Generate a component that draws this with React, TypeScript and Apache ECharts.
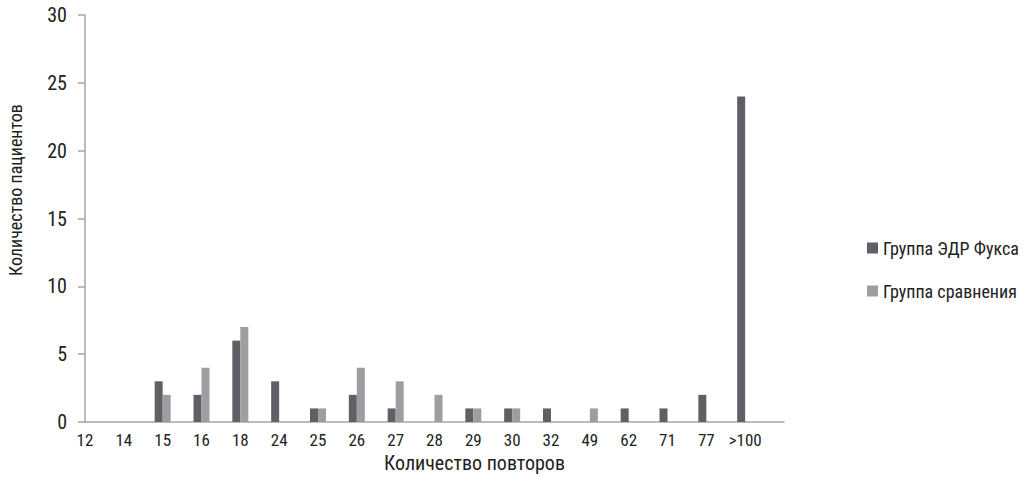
import React, { useEffect, useRef } from "react";
import * as echarts from "echarts";

const categories = ["12", "14", "15", "16", "18", "24", "25", "26", "27", "28", "29", "30", "32", "49", "62", "71", "77", ">100", ""];
const fuchsValues = [0, 0, 3, 2, 6, 3, 1, 2, 1, 0, 1, 1, 1, 0, 1, 1, 2, 24, null];
const comparisonValues = [0, 0, 2, 4, 7, 0, 1, 4, 3, 2, 1, 1, 0, 1, 0, 0, 0, 0, null];
const seriesNames = ["Группа ЭДР Фукса", "Группа сравнения"];
const xAxisTitle = "Количество повторов";
const yAxisTitle = "Количество пациентов";

const FONT = "'Liberation Sans Narrow', 'Roboto Condensed', 'Liberation Sans', sans-serif";

export default function App() {
  const ref = useRef<HTMLDivElement>(null);
  useEffect(() => {
    if (!ref.current) return;
    const chart = echarts.init(ref.current, undefined, { renderer: "svg" });
    chart.setOption({
      animation: false,
      textStyle: { fontFamily: FONT },
      grid: { left: 85, right: 240, top: 15, bottom: 55, containLabel: false, outerBoundsMode: "none" },
      legend: {
        orient: "vertical",
        left: 862,
        top: 234,
        itemWidth: 11,
        itemHeight: 11,
        itemGap: 25,
        icon: "rect",
        textStyle: { fontFamily: FONT, fontSize: 18, color: "#222" },
        data: seriesNames,
      },
      xAxis: {
        type: "category",
        data: categories,
        boundaryGap: false,
        name: xAxisTitle,
        nameLocation: "middle",
        nameGap: 30,
        nameTextStyle: { fontFamily: FONT, fontSize: 20, color: "#222", padding: [0, 0, 0, 80] },
        axisLine: { lineStyle: { color: "#a6a6a6", width: 1.5 } },
        axisTick: { show: false },
        axisLabel: { fontFamily: FONT, fontSize: 17, color: "#222", margin: 9, interval: 0 },
      },
      yAxis: {
        type: "value",
        min: 0,
        max: 30,
        interval: 5,
        axisLine: { show: true, lineStyle: { color: "#a6a6a6", width: 1.5 } },
        axisTick: { show: true, length: 7, lineStyle: { color: "#a6a6a6", width: 1.5 } },
        splitLine: { show: false },
        axisLabel: { fontFamily: FONT, fontSize: 20, color: "#222", margin: 18 },
      },
      graphic: [
        {
          type: "text",
          x: 15,
          y: 190,
          rotation: Math.PI / 2,
          style: {
            text: yAxisTitle,
            fontFamily: FONT,
            fontSize: 18,
            fill: "#222",
            align: "center",
            verticalAlign: "middle",
          },
        },
      ],
      series: [
        {
          name: seriesNames[0],
          type: "bar",
          data: fuchsValues,
          barWidth: 8,
          barGap: "0%",
          itemStyle: { color: "#5f6065" },
        },
        {
          name: seriesNames[1],
          type: "bar",
          data: comparisonValues,
          barWidth: 8,
          barGap: "0%",
          itemStyle: { color: "#9d9ea2" },
        },
      ],
    });
    return () => chart.dispose();
  }, []);
  return <div ref={ref} style={{ width: 1024, height: 477, position: "absolute", left: 0, top: 0 }} />;
}
